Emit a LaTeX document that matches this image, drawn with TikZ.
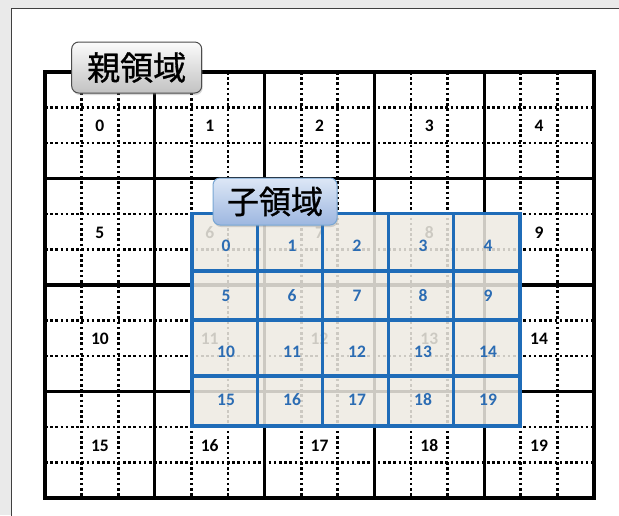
\documentclass[tikz,border=0pt]{standalone}
\usepackage{fontspec}
\setmainfont{Carlito}
\newfontfamily\cjk{Noto Sans CJK JP}[FakeBold=0.9]
\usetikzlibrary{shadows}
\definecolor{bg}{HTML}{EAEAEA}
\definecolor{childfill}{HTML}{EEEBE2}
\definecolor{childline}{HTML}{1F6CB8}
\definecolor{childtext}{HTML}{2B6CB3}
\definecolor{ptitletop}{HTML}{FBFBFB}
\definecolor{ptitlebot}{HTML}{C2C2C2}
\definecolor{ctitletop}{HTML}{DDE7F6}
\definecolor{ctitlebot}{HTML}{9DB7E0}
\tikzset{
  panel/.style={draw=black!75, line width=0.8pt, fill=white},
  dotline/.style={line width=2.7pt, dash pattern=on 2.6pt off 2.6pt, black},
  gridline/.style={line width=3.2pt, black},
  plabel/.style={font=\bfseries\fontsize{17.5}{17.5}\selectfont, text=black, inner sep=0pt},
  clabel/.style={font=\bfseries\fontsize{17.5}{17.5}\selectfont, text=childtext, inner sep=0pt},
  cline/.style={line width=3.3pt, childline},
  ptitle/.style={draw=black!70, line width=1pt, rounded corners=7pt, top color=ptitletop, bottom color=ptitlebot,
    minimum width=130pt, minimum height=51pt, inner sep=0pt, font=\cjk\fontsize{33}{33}\selectfont,
    drop shadow={opacity=0.3, shadow xshift=1pt, shadow yshift=-2pt}},
  ctitle/.style={draw=childline!60, line width=1pt, rounded corners=7pt, top color=ctitletop, bottom color=ctitlebot,
    minimum width=124pt, minimum height=47pt, inner sep=0pt, font=\cjk\fontsize{32}{32}\selectfont,
    drop shadow={opacity=0.3, shadow xshift=1pt, shadow yshift=-2pt}}
}
\begin{document}
\begin{tikzpicture}[x=1pt,y=-1pt]
\useasboundingbox (0,0) rectangle (619,515);
\fill[bg] (0,0) rectangle (619,515);
\draw[panel] (11.5,8.5) rectangle (640,540);
% parent grid: dotted sub-lines
\foreach \k in {1,2,4,5,7,8,10,11,13,14}
  \draw[dotline] ({45+109.8*\k/3},72) -- ({45+109.8*\k/3},498);
\foreach \k in {1,2,4,5,7,8,10,11}
  \draw[dotline] (45,{72+106.5*\k/3}) -- (594,{72+106.5*\k/3});
% parent grid: solid lines
\foreach \k in {1,2,3,4}
  \draw[gridline] ({45+109.8*\k},72) -- ({45+109.8*\k},498);
\foreach \k in {1,2,3}
  \draw[gridline] (45,{72+106.5*\k}) -- (594,{72+106.5*\k});
\draw[gridline, line join=miter] (45,72) rectangle (594,498);
% parent labels
\foreach \r in {0,1,2,3}{
  \foreach \c in {0,1,2,3,4}{
    \pgfmathtruncatemacro{\n}{5*\r+\c}
    \node[plabel] (p\n) at ({45+109.8*(\c+0.5)},{72+106.5*(\r+0.5)+1}) {\n};
  }
}
% child domain
\fill[childfill, fill opacity=0.86] (192,213.5) rectangle (520,426);
\foreach \x in {257.3,322.7,388.3,453.3}
  \draw[cline] (\x,213.5) -- (\x,426);
\foreach \y in {271,320,376}
  \draw[cline] (192,\y) -- (520,\y);
\draw[cline, line join=miter] (192,213.5) rectangle (520,426);
% child labels
\def\cxs{{226,292,357,423,488}}
\def\cys{{246,296,352,400}}
\foreach \r in {0,1,2,3}{
  \foreach \c in {0,1,2,3,4}{
    \pgfmathtruncatemacro{\n}{5*\r+\c}
    \pgfmathsetmacro{\cx}{\cxs[\c]}
    \pgfmathsetmacro{\cy}{\cys[\r]}
    \node[clabel] (c\n) at (\cx,\cy) {\n};
  }
}
% titles
\node[ptitle] (parenttitle) at (136.7,67.5) {親領域};
\node[ctitle] (childtitle) at (275,201.5) {子領域};
\end{tikzpicture}
\end{document}
